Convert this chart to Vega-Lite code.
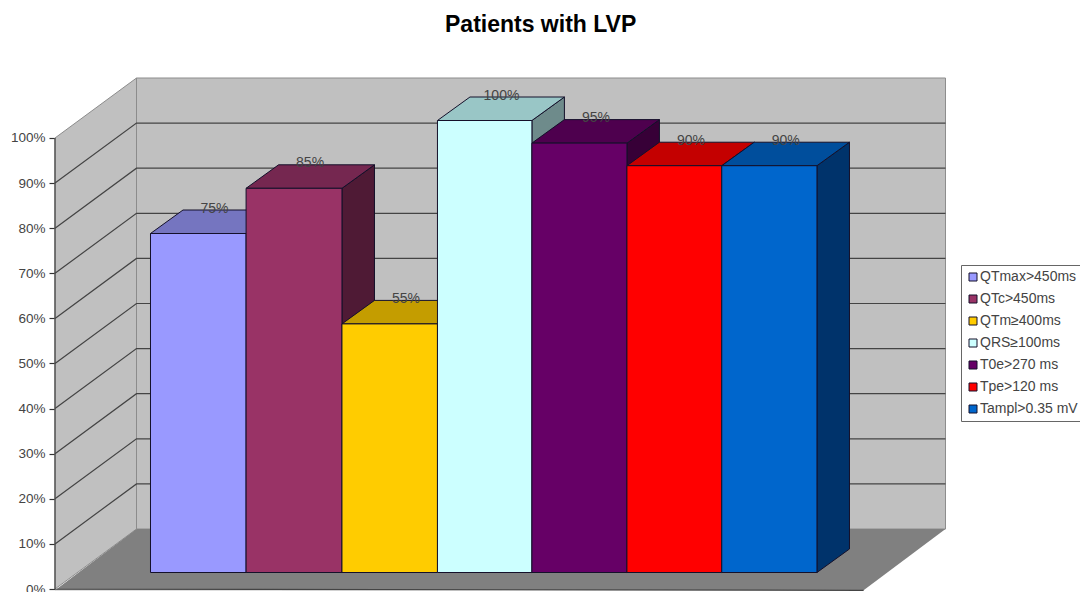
{
  "$schema": "https://vega.github.io/schema/vega-lite/v6.json",
  "width": 1080,
  "height": 542,
  "autosize": {"type": "none"},
  "padding": {"left": 0, "top": 50, "right": 0, "bottom": 0},
  "background": "white",
  "config": {"view": {"stroke": null}, "font": "Liberation Sans"},
  "title": {"text": "Patients with LVP", "font": "Liberation Sans", "fontSize": 23, "fontWeight": "bold", "color": "#000000", "anchor": "start", "frame": "group", "dx": 445, "offset": 13},
  "datasets": {
    "bars": [
      {"measure": "QTmax>450ms", "value": 75, "label": "75%", "slot": 0, "slotEnd": 1.004},
      {"measure": "QTc>450ms", "value": 85, "label": "85%", "slot": 1.004, "slotEnd": 2.011},
      {"measure": "QTm≥400ms", "value": 55, "label": "55%", "slot": 2.011, "slotEnd": 3.014},
      {"measure": "QRS≥100ms", "value": 100, "label": "100%", "slot": 3.014, "slotEnd": 4.006},
      {"measure": "T0e>270 ms", "value": 95, "label": "95%", "slot": 4.006, "slotEnd": 5.004},
      {"measure": "Tpe>120 ms", "value": 90, "label": "90%", "slot": 5.004, "slotEnd": 6},
      {"measure": "Tampl>0.35 mV", "value": 90, "label": "90%", "slot": 6, "slotEnd": 7}
    ],
    "sideFaces": [
      {"measure": "QTmax>450ms", "pos": 1.004, "top": 75, "foot": 0},
      {"measure": "QTmax>450ms", "pos": 1.3454, "top": 80.2, "foot": 5.2},
      {"measure": "QTc>450ms", "pos": 2.011, "top": 85, "foot": 0},
      {"measure": "QTc>450ms", "pos": 2.3524, "top": 90.2, "foot": 5.2},
      {"measure": "QTm≥400ms", "pos": 3.014, "top": 55, "foot": 0},
      {"measure": "QTm≥400ms", "pos": 3.3554, "top": 60.2, "foot": 5.2},
      {"measure": "QRS≥100ms", "pos": 4.006, "top": 100, "foot": 0},
      {"measure": "QRS≥100ms", "pos": 4.3474, "top": 105.2, "foot": 5.2},
      {"measure": "T0e>270 ms", "pos": 5.004, "top": 95, "foot": 0},
      {"measure": "T0e>270 ms", "pos": 5.3454, "top": 100.2, "foot": 5.2},
      {"measure": "Tpe>120 ms", "pos": 6, "top": 90, "foot": 0},
      {"measure": "Tpe>120 ms", "pos": 6.3414, "top": 95.2, "foot": 5.2},
      {"measure": "Tampl>0.35 mV", "pos": 7, "top": 90, "foot": 0},
      {"measure": "Tampl>0.35 mV", "pos": 7.3414, "top": 95.2, "foot": 5.2}
    ],
    "topFaces": [
      {"measure": "QTmax>450ms", "level": 75, "from": 0, "to": 1.004},
      {"measure": "QTmax>450ms", "level": 80.2, "from": 0.3414, "to": 1.3454},
      {"measure": "QTc>450ms", "level": 85, "from": 1.004, "to": 2.011},
      {"measure": "QTc>450ms", "level": 90.2, "from": 1.3454, "to": 2.3524},
      {"measure": "QTm≥400ms", "level": 55, "from": 2.011, "to": 3.014},
      {"measure": "QTm≥400ms", "level": 60.2, "from": 2.3524, "to": 3.3554},
      {"measure": "QRS≥100ms", "level": 100, "from": 3.014, "to": 4.006},
      {"measure": "QRS≥100ms", "level": 105.2, "from": 3.3554, "to": 4.3474},
      {"measure": "T0e>270 ms", "level": 95, "from": 4.006, "to": 5.004},
      {"measure": "T0e>270 ms", "level": 100.2, "from": 4.3474, "to": 5.3454},
      {"measure": "Tpe>120 ms", "level": 90, "from": 5.004, "to": 6},
      {"measure": "Tpe>120 ms", "level": 95.2, "from": 5.3454, "to": 6.3414},
      {"measure": "Tampl>0.35 mV", "level": 90, "from": 6, "to": 7},
      {"measure": "Tampl>0.35 mV", "level": 95.2, "from": 6.3414, "to": 7.3414}
    ],
    "gridLines": [
      {"tick": 10, "pos": -1.003, "level": 10}, {"tick": 10, "pos": -0.147, "level": 23.3}, {"tick": 10, "pos": 8.35, "level": 23.3},
      {"tick": 20, "pos": -1.003, "level": 20}, {"tick": 20, "pos": -0.147, "level": 33.3}, {"tick": 20, "pos": 8.35, "level": 33.3},
      {"tick": 30, "pos": -1.003, "level": 30}, {"tick": 30, "pos": -0.147, "level": 43.3}, {"tick": 30, "pos": 8.35, "level": 43.3},
      {"tick": 40, "pos": -1.003, "level": 40}, {"tick": 40, "pos": -0.147, "level": 53.3}, {"tick": 40, "pos": 8.35, "level": 53.3},
      {"tick": 50, "pos": -1.003, "level": 50}, {"tick": 50, "pos": -0.147, "level": 63.3}, {"tick": 50, "pos": 8.35, "level": 63.3},
      {"tick": 60, "pos": -1.003, "level": 60}, {"tick": 60, "pos": -0.147, "level": 73.3}, {"tick": 60, "pos": 8.35, "level": 73.3},
      {"tick": 70, "pos": -1.003, "level": 70}, {"tick": 70, "pos": -0.147, "level": 83.3}, {"tick": 70, "pos": 8.35, "level": 83.3},
      {"tick": 80, "pos": -1.003, "level": 80}, {"tick": 80, "pos": -0.147, "level": 93.3}, {"tick": 80, "pos": 8.35, "level": 93.3},
      {"tick": 90, "pos": -1.003, "level": 90}, {"tick": 90, "pos": -0.147, "level": 103.3}, {"tick": 90, "pos": 8.35, "level": 103.3}
    ]
  },
  "resolve": {"scale": {"y": "independent", "color": "independent"}, "axis": {"y": "independent"}},
  "layer": [
    {
      "description": "Left wall of the chart box",
      "data": {"values": [
        {"pos": -1.003, "low": 0, "high": 100},
        {"pos": -0.147, "low": 13.3, "high": 113.3}
      ]},
      "mark": {"type": "area", "fill": "#c0c0c0", "stroke": "#8c8c8c", "strokeWidth": 1},
      "encoding": {
        "x": {"field": "pos", "type": "quantitative", "scale": {"domain": [-1.5807, 9.7627], "nice": false, "zero": false}, "axis": null},
        "y": {"field": "low", "type": "quantitative", "scale": {"domain": [-0.665, 119.51], "nice": false, "zero": false},
          "axis": {"values": [0, 10, 20, 30, 40, 50, 60, 70, 80, 90, 100], "labelExpr": "datum.value + '%'", "offset": -55, "domain": false, "grid": false, "title": null, "ticks": true, "tickSize": 6, "tickColor": "#333333", "tickWidth": 1.2, "labelFontSize": 13.5, "labelColor": "#444444", "labelPadding": 4, "labelFont": "Liberation Sans"}},
        "y2": {"field": "high"}
      }
    },
    {
      "description": "Back wall",
      "data": {"values": [{"pos": -0.147, "posEnd": 8.35, "low": 13.3, "high": 113.3}]},
      "mark": {"type": "rect", "fill": "#c0c0c0", "stroke": "#8c8c8c", "strokeWidth": 1},
      "encoding": {
        "x": {"field": "pos", "type": "quantitative", "axis": null},
        "x2": {"field": "posEnd"},
        "y": {"field": "low", "type": "quantitative", "scale": {"domain": [-0.665, 119.51], "nice": false, "zero": false}, "axis": null},
        "y2": {"field": "high"}
      }
    },
    {
      "description": "Floor",
      "data": {"values": [
        {"level": -0.3, "from": -1.003, "to": 7.49},
        {"level": 13.3, "from": -0.147, "to": 8.35}
      ]},
      "mark": {"type": "area", "orient": "horizontal", "fill": "#808080"},
      "encoding": {
        "y": {"field": "level", "type": "quantitative", "scale": {"domain": [-0.665, 119.51], "nice": false, "zero": false}, "axis": null},
        "x": {"field": "from", "type": "quantitative", "axis": null},
        "x2": {"field": "to"}
      }
    },
    {
      "description": "Gridlines running along the left and back walls",
      "data": {"name": "gridLines"},
      "mark": {"type": "line", "stroke": "#444444", "strokeWidth": 1.2},
      "encoding": {
        "x": {"field": "pos", "type": "quantitative", "axis": null},
        "y": {"field": "level", "type": "quantitative", "scale": {"domain": [-0.665, 119.51], "nice": false, "zero": false}, "axis": null},
        "detail": {"field": "tick"}
      }
    },
    {
      "description": "Value axis line and front edge of the floor",
      "data": {"values": [
        {"pos": -1.003, "level": 100},
        {"pos": -1.003, "level": 0},
        {"pos": 7.49, "level": -0.3}
      ]},
      "mark": {"type": "line", "stroke": "#444444", "strokeWidth": 1.2},
      "encoding": {
        "x": {"field": "pos", "type": "quantitative", "axis": null},
        "y": {"field": "level", "type": "quantitative", "scale": {"domain": [-0.665, 119.51], "nice": false, "zero": false}, "axis": null},
        "order": {"field": "level", "sort": "descending"}
      }
    },
    {
      "description": "Shaded right faces of the columns",
      "data": {"name": "sideFaces"},
      "mark": {"type": "area", "stroke": "#14102a", "strokeWidth": 1},
      "encoding": {
        "x": {"field": "pos", "type": "quantitative", "axis": null},
        "y": {"field": "top", "type": "quantitative", "scale": {"domain": [-4.314, 115.6], "nice": false, "zero": false}, "axis": null},
        "y2": {"field": "foot"},
        "color": {"field": "measure", "type": "nominal", "legend": null,
          "scale": {"domain": ["QTmax>450ms", "QTc>450ms", "QTm≥400ms", "QRS≥100ms", "T0e>270 ms", "Tpe>120 ms", "Tampl>0.35 mV"],
            "range": ["#4f4f85", "#4f1a35", "#856a00", "#6e8b8b", "#370037", "#850000", "#00336b"]}}
      }
    },
    {
      "description": "Lit top faces of the columns",
      "data": {"name": "topFaces"},
      "mark": {"type": "area", "orient": "horizontal", "stroke": "#14102a", "strokeWidth": 1},
      "encoding": {
        "y": {"field": "level", "type": "quantitative", "scale": {"domain": [-4.314, 115.6], "nice": false, "zero": false}, "axis": null},
        "x": {"field": "from", "type": "quantitative", "axis": null},
        "x2": {"field": "to"},
        "color": {"field": "measure", "type": "nominal", "legend": null,
          "scale": {"domain": ["QTmax>450ms", "QTc>450ms", "QTm≥400ms", "QRS≥100ms", "T0e>270 ms", "Tpe>120 ms", "Tampl>0.35 mV"],
            "range": ["#7575c0", "#752750", "#c49d00", "#99c6c6", "#4e004e", "#c40000", "#004e9c"]}}
      }
    },
    {
      "description": "Front faces of the columns, one per measure",
      "data": {"name": "bars"},
      "mark": {"type": "rect", "stroke": "#14102a", "strokeWidth": 1},
      "encoding": {
        "x": {"field": "slot", "type": "quantitative", "axis": null},
        "x2": {"field": "slotEnd"},
        "y": {"field": "value", "type": "quantitative", "scale": {"domain": [-4.314, 115.6], "nice": false, "zero": false}, "axis": null},
        "y2": {"datum": 0},
        "color": {"field": "measure", "type": "nominal",
          "scale": {"domain": ["QTmax>450ms", "QTc>450ms", "QTm≥400ms", "QRS≥100ms", "T0e>270 ms", "Tpe>120 ms", "Tampl>0.35 mV"],
            "range": ["#9999ff", "#993366", "#ffcc00", "#ccffff", "#660066", "#ff0000", "#0066cc"]},
          "legend": {"title": null, "orient": "none", "legendX": 961, "legendY": 215, "fillColor": "#ffffff", "strokeColor": "#666666", "symbolType": "square", "symbolSize": 64, "symbolStrokeColor": "#14102a", "symbolStrokeWidth": 1, "labelFontSize": 14, "labelColor": "#444444", "labelFont": "Liberation Sans", "rowPadding": 8, "padding": 5, "labelOffset": 0, "labelLimit": 120}}
      }
    },
    {
      "description": "Percentage labels above the columns",
      "data": {"name": "bars"},
      "mark": {"type": "text", "fontSize": 14, "color": "#444444", "font": "Liberation Sans", "dx": 64, "dy": -25, "align": "center", "baseline": "middle"},
      "encoding": {
        "x": {"field": "slot", "type": "quantitative", "axis": null},
        "y": {"field": "value", "type": "quantitative", "scale": {"domain": [-4.314, 115.6], "nice": false, "zero": false}, "axis": null},
        "text": {"field": "label", "type": "nominal"}
      }
    }
  ]
}
